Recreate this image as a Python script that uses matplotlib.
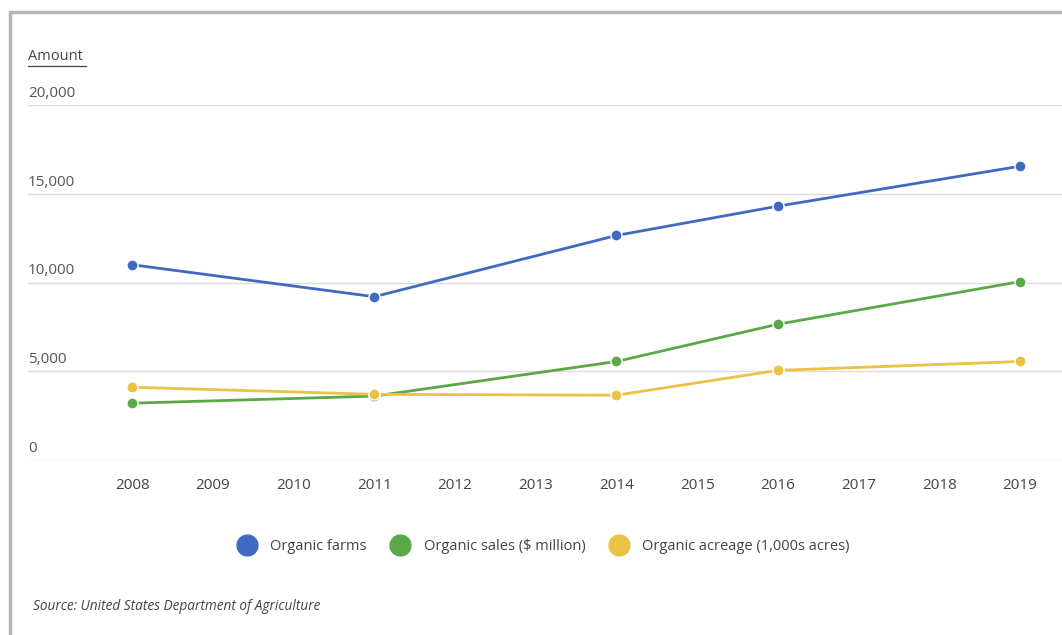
import matplotlib.pyplot as plt
from matplotlib.lines import Line2D
from matplotlib.patches import Rectangle

# data
years = [2008, 2011, 2014, 2016, 2019]
organic_farms = [11000, 9200, 12650, 14300, 16550]
organic_sales = [3200, 3600, 5550, 7650, 10050]
organic_acreage = [4100, 3700, 3650, 5050, 5550]
tick_years = list(range(2008, 2020))
y_ticks = [0, 5000, 10000, 15000, 20000]
series_names = ['Organic farms', 'Organic sales ($ million)', 'Organic acreage (1,000s acres)']
colors = ['#4169c1', '#5aa848', '#eac244']

plt.rcParams['font.family'] = ['Open Sans', 'DejaVu Sans']

W, H = 1062, 635
fig = plt.figure(figsize=(W / 100, H / 100), dpi=100)
fig.patch.set_facecolor('white')

# gray frame around the chart (cut off at right and bottom)
fig.patches.append(Rectangle((10 / W, -0.2), 1.2, 1.2 - 12 / H, transform=fig.transFigure,
                             fill=False, edgecolor='#b5b5b5', linewidth=2.5))

ax = fig.add_axes([28 / W, (H - 460) / H, (W - 28) / W, 355 / H])
ax.set_xlim(2006.71, 2019.52)
ax.set_ylim(0, 20000)

for v in y_ticks:
    ax.axhline(v, color='#dcdcdc', linewidth=1, zorder=1)
    ax.annotate(f'{v:,}', xy=(0, v), xycoords=ax.get_yaxis_transform(),
                xytext=(0, 3), textcoords='offset points', ha='left', va='bottom',
                fontsize=11, color='#555555')

for vals, c in zip([organic_farms, organic_sales, organic_acreage], colors):
    ax.plot(years, vals, color=c, linewidth=2, marker='o', markersize=8,
            markeredgecolor='white', markeredgewidth=1, zorder=3, clip_on=False)

ax.set_xticks(tick_years)
ax.set_xticklabels([str(y) for y in tick_years], fontsize=11, color='#444444')
ax.tick_params(axis='x', length=0, pad=13)
ax.set_yticks([])
for s in ax.spines.values():
    s.set_visible(False)

# axis title
fig.text(28 / W, 1 - 57 / H, 'Amount', fontsize=10.5, color='#444444', va='center', ha='left')
fig.add_artist(Line2D([28 / W, 86 / W], [1 - 66 / H, 1 - 66 / H], color='#444444', linewidth=0.9))

handles = [Line2D([], [], color=c, marker='o', linestyle='none', markersize=15) for c in colors]
fig.legend(handles, series_names, loc='center', bbox_to_anchor=(541 / W, 1 - 547 / H),
           ncol=3, frameon=False, fontsize=10.5, handletextpad=0.6, columnspacing=1.3,
           labelcolor='#444444')

fig.text(33 / W, 1 - 607 / H, 'Source: United States Department of Agriculture',
         fontsize=9.8, style='italic', color='#444444', va='center')

fig.savefig('out.png', dpi=100)
